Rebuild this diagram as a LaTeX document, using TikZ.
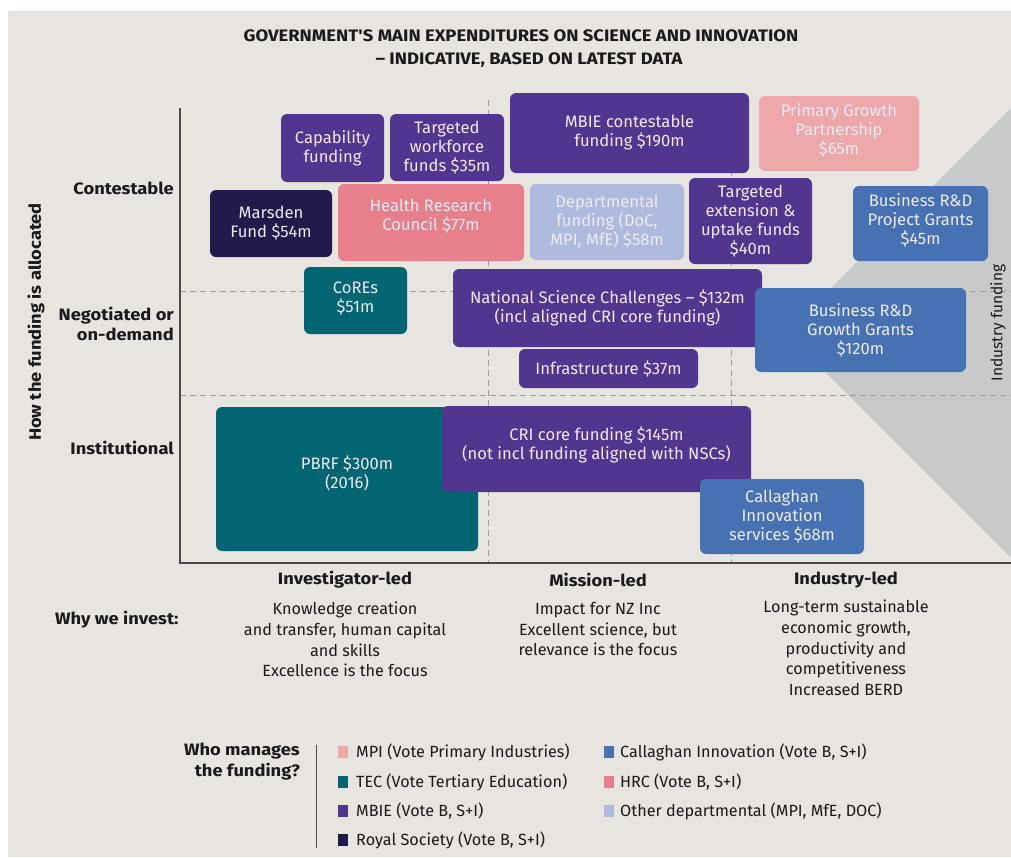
\documentclass[tikz,border=0pt]{standalone}
\usepackage{fontspec}
\setmainfont{Fira Sans}
\newfontfamily\condfont{Fira Sans}
\newfontfamily\headfont{Fira Sans}[FakeStretch=1.11]
\definecolor{bg}{HTML}{E8E4DF}
\definecolor{tri}{HTML}{C8C9CA}
\definecolor{mbie}{HTML}{51368F}
\definecolor{roy}{HTML}{221A4A}
\definecolor{tec}{HTML}{016671}
\definecolor{hrc}{HTML}{E7808A}
\definecolor{mpi}{HTML}{EFA8AA}
\definecolor{cal}{HTML}{4672B4}
\definecolor{oth}{HTML}{AEBADE}
\definecolor{axisc}{HTML}{4A4A4A}
\definecolor{dashc}{HTML}{9C9C9C}
\definecolor{txt}{HTML}{1A1A1A}
\definecolor{boxtxt}{HTML}{EEEAF6}
\tikzset{
  fbox/.style={rounded corners=6pt, inner sep=0pt, align=center, text=boxtxt,
    font=\fontsize{16.6}{19}\selectfont},
  btxt/.style={inner sep=0pt, align=center, text=boxtxt,
    font=\fontsize{16.6}{19}\selectfont},
  headlbl/.style={font=\headfont\bfseries\fontsize{16.5}{20.5}\selectfont, text=txt, inner sep=0pt},
  bodylbl/.style={font=\condfont\fontsize{16.2}{20.7}\selectfont, text=txt, inner sep=0pt, align=center},
  legsq/.style={minimum width=10pt, minimum height=12pt, inner sep=0pt},
  legtxt/.style={font=\condfont\fontsize{16.2}{18}\selectfont, text=txt, inner sep=0pt, anchor=west},
  axisline/.style={draw=axisc, line width=1.6pt},
  gridline/.style={draw=dashc, line width=0.8pt, dash pattern=on 6pt off 4pt}
}
\begin{document}
\begin{tikzpicture}[x=1pt,y=-1pt]
\useasboundingbox (0,0) rectangle (1011,857);
\fill[white] (0,0) rectangle (1011,857);
\fill[bg] (8,11) rectangle (1011,857);
% title
\node[headlbl, font=\headfont\bfseries\fontsize{16.6}{19}\selectfont] (t1) at (521,36) {GOVERNMENT'S MAIN EXPENDITURES ON SCIENCE AND INNOVATION};
\node[headlbl, font=\headfont\bfseries\fontsize{16.6}{19}\selectfont] (t2) at (529,60) {– INDICATIVE, BASED ON LATEST DATA};
% industry triangle
\fill[tri] (786,333) -- (1011,108) -- (1011,558) -- cycle;
% grid
\draw[gridline] (180,291) -- (1011,291);
\draw[gridline] (180,395) -- (1011,395);
\draw[gridline] (488,100) -- (488,563);
\draw[gridline] (731,100) -- (731,563);
% axes
\draw[axisline] (180,108) -- (180,563) -- (1011,563);
% industry funding label
\node[rotate=90, font=\fontsize{15.5}{18}\selectfont, text=txt] (indf) at (998,323) {Industry funding};
% boxes
\node[fbox, fill=mbie, minimum width=103pt, minimum height=68pt] (cap) at (332.5,148) {Capability\\funding};
\node[fbox, fill=mbie, minimum width=114pt, minimum height=67pt] (tw) at (447,147.5) {Targeted\\workforce\\funds \$35m};
\node[fbox, fill=mbie, minimum width=239pt, minimum height=80pt] (mbiec) at (629.5,133) {MBIE contestable\\funding \$190m};
\node[fbox, fill=mpi, minimum width=160pt, minimum height=75pt] (pgp) at (839,133.5) {};
\node[btxt] (pgpt) at ([yshift=3.5pt]pgp.center) {Primary Growth\\Partnership\\\$65m};
\node[fbox, fill=roy, minimum width=122pt, minimum height=67pt] (mars) at (271,223.5) {Marsden\\Fund \$54m};
\node[fbox, fill=hrc, minimum width=186pt, minimum height=77pt] (hrcb) at (431,222.5) {};
\node[btxt] (hrct) at ([yshift=6pt]hrcb.center) {Health Research\\Council \$77m};
\node[fbox, fill=oth, minimum width=154pt, minimum height=76pt] (dep) at (607,222) {Departmental\\funding (DoC,\\MPI, MfE) \$58m};
\node[fbox, fill=mbie, minimum width=123pt, minimum height=86pt] (tex) at (750.5,221) {Targeted\\extension \&\\uptake funds\\\$40m};
\node[fbox, fill=cal, minimum width=135pt, minimum height=75pt] (bpg) at (920.5,223.5) {};
\node[btxt] (bpgt) at ([yshift=3.5pt]bpg.center) {Business R\&D\\Project Grants\\\$45m};
\node[fbox, fill=tec, minimum width=103pt, minimum height=67pt] (cores) at (355.5,300.5) {};
\node[btxt] (corest) at ([yshift=2.5pt]cores.center) {CoREs\\\$51m};
\node[fbox, fill=mbie, minimum width=309pt, minimum height=78pt] (nsc) at (607.5,308) {National Science Challenges – \$132m\\(incl aligned CRI core funding)};
\node[fbox, fill=mbie, minimum width=179pt, minimum height=39pt] (infra) at (608.5,368.5) {Infrastructure \$37m};
\node[fbox, fill=cal, minimum width=211pt, minimum height=84pt] (bgg) at (860.5,330) {Business R\&D\\Growth Grants\\\$120m};
\node[fbox, fill=tec, minimum width=262pt, minimum height=144pt] (pbrf) at (347,479) {};
\node[btxt] (pbrft) at ([yshift=6pt]pbrf.center) {PBRF \$300m\\(2016)};
\node[fbox, fill=mbie, minimum width=309pt, minimum height=86pt] (cri) at (596.5,449) {};
\node[btxt] (crit) at ([yshift=4pt]cri.center) {CRI core funding \$145m\\(not incl funding aligned with NSCs)};
\node[fbox, fill=cal, minimum width=164pt, minimum height=75pt] (calla) at (782,516.5) {Callaghan\\Innovation\\services \$68m};
% row labels
\node[headlbl, anchor=east] (rc) at (174,188) {Contestable};
\node[headlbl, anchor=east, align=right] (rn) at (174,324) {Negotiated or\\on-demand};
\node[headlbl, anchor=east] (ri) at (174,448) {Institutional};
\node[headlbl, rotate=90] (ry) at (36,322) {How the funding is allocated};
% column labels
\node[headlbl] (ci) at (345,580) {Investigator-led};
\node[headlbl] (cm) at (598,580) {Mission-led};
\node[headlbl] (cn) at (846,580) {Industry-led};
\node[headlbl, anchor=west] (why) at (55,620) {Why we invest:};
\node[bodylbl, anchor=north] (di) at (345,602) {Knowledge creation\\and transfer, human capital\\and skills\\Excellence is the focus};
\node[bodylbl, anchor=north] (dm) at (598,602) {Impact for NZ Inc\\Excellent science, but\\relevance is the focus};
\node[bodylbl, anchor=north] (dn) at (846,600) {Long-term sustainable\\economic growth,\\productivity and\\competitiveness\\Increased BERD};
% legend
\node[headlbl, anchor=east, align=right, font=\headfont\bfseries\fontsize{16.5}{21}\selectfont] (who) at (300,762) {Who manages\\the funding?};
\coordinate (lt) at (316,745);
\coordinate (lb) at (316,848);
\draw[axisc, line width=0.8pt] (lt) -- (lb);
\node[legsq, fill=mpi] (s1) at (343,752) {};
\node[legtxt] (l1) at (356,752) {MPI (Vote Primary Industries)};
\node[legsq, fill=tec] (s2) at (343,782) {};
\node[legtxt] (l2) at (356,782) {TEC (Vote Tertiary Education)};
\node[legsq, fill=mbie] (s3) at (343,811) {};
\node[legtxt] (l3) at (356,811) {MBIE (Vote B, S+I)};
\node[legsq, fill=roy] (s4) at (343,840) {};
\node[legtxt] (l4) at (356,840) {Royal Society (Vote B, S+I)};
\node[legsq, fill=cal] (s5) at (609,752) {};
\node[legtxt] (l5) at (620,752) {Callaghan Innovation (Vote B, S+I)};
\node[legsq, fill=hrc] (s6) at (609,782) {};
\node[legtxt] (l6) at (620,782) {HRC (Vote B, S+I)};
\node[legsq, fill=oth] (s7) at (609,811) {};
\node[legtxt] (l7) at (620,811) {Other departmental (MPI, MfE, DOC)};
\end{tikzpicture}
\end{document}
